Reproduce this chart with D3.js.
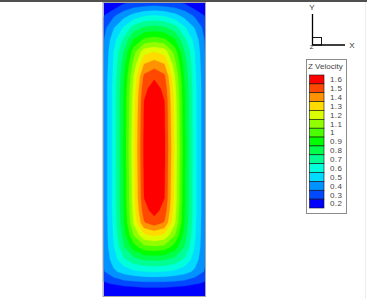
<!DOCTYPE html>
<html>
<head>
<meta charset="utf-8">
<script src="https://cdn.jsdelivr.net/npm/d3@7"></script>
<style>
  body { margin: 0; background: #fff; }
  svg { display: block; font-family: 'Liberation Sans', Arial, sans-serif; }
</style>
</head>
<body>
<div class="chart"></div>
<script>
'use strict';

const FULL_WIDTH = 367;
const FULL_HEIGHT = 299;

const plot = {
  left: 103.5,
  right: 205,
  top: 3,
  bottom: 296
};

// contour levels, top of the legend first
const levels = [1.6, 1.5, 1.4, 1.3, 1.2, 1.1, 1.0, 0.9, 0.8, 0.7, 0.6, 0.5, 0.4, 0.3, 0.2];
const levelLabels = ['1.6', '1.5', '1.4', '1.3', '1.2', '1.1', '1', '0.9', '0.8', '0.7', '0.6', '0.5', '0.4', '0.3', '0.2'];

// Z velocity: 11 columns (left wall -> right wall), 25 rows (top -> bottom)
const zVelocity = [
  [0.11, 0.21, 0.29, 0.32, 0.33, 0.34, 0.33, 0.32, 0.29, 0.21, 0.11],
  [0.29, 0.38, 0.46, 0.53, 0.58, 0.60, 0.58, 0.53, 0.46, 0.38, 0.29],
  [0.36, 0.49, 0.61, 0.74, 0.81, 0.83, 0.81, 0.74, 0.61, 0.49, 0.36],
  [0.39, 0.56, 0.72, 0.91, 1.02, 1.05, 1.02, 0.91, 0.72, 0.56, 0.39],
  [0.40, 0.60, 0.80, 1.06, 1.26, 1.30, 1.26, 1.06, 0.80, 0.60, 0.40],
  [0.41, 0.61, 0.85, 1.14, 1.40, 1.45, 1.40, 1.14, 0.85, 0.61, 0.41],
  [0.42, 0.62, 0.88, 1.21, 1.52, 1.58, 1.52, 1.21, 0.88, 0.62, 0.42],
  [0.42, 0.63, 0.90, 1.24, 1.57, 1.65, 1.57, 1.24, 0.90, 0.63, 0.42],
  [0.42, 0.63, 0.91, 1.26, 1.60, 1.68, 1.60, 1.26, 0.91, 0.63, 0.42],
  [0.42, 0.63, 0.91, 1.27, 1.61, 1.69, 1.61, 1.27, 0.91, 0.63, 0.42],
  [0.42, 0.63, 0.91, 1.28, 1.61, 1.69, 1.61, 1.28, 0.91, 0.63, 0.42],
  [0.42, 0.63, 0.92, 1.28, 1.62, 1.70, 1.62, 1.28, 0.92, 0.63, 0.42],
  [0.42, 0.63, 0.92, 1.29, 1.62, 1.70, 1.62, 1.29, 0.92, 0.63, 0.42],
  [0.42, 0.63, 0.92, 1.28, 1.62, 1.70, 1.62, 1.28, 0.92, 0.63, 0.42],
  [0.42, 0.63, 0.91, 1.28, 1.61, 1.69, 1.61, 1.28, 0.91, 0.63, 0.42],
  [0.42, 0.63, 0.91, 1.27, 1.61, 1.69, 1.61, 1.27, 0.91, 0.63, 0.42],
  [0.42, 0.63, 0.91, 1.27, 1.60, 1.68, 1.60, 1.27, 0.91, 0.63, 0.42],
  [0.42, 0.63, 0.90, 1.25, 1.56, 1.64, 1.56, 1.25, 0.90, 0.63, 0.42],
  [0.42, 0.62, 0.89, 1.22, 1.49, 1.55, 1.49, 1.22, 0.89, 0.62, 0.42],
  [0.42, 0.61, 0.85, 1.11, 1.28, 1.32, 1.28, 1.11, 0.85, 0.61, 0.42],
  [0.42, 0.59, 0.79, 0.95, 1.06, 1.08, 1.06, 0.95, 0.79, 0.59, 0.42],
  [0.41, 0.55, 0.68, 0.77, 0.81, 0.82, 0.81, 0.77, 0.68, 0.55, 0.41],
  [0.39, 0.48, 0.54, 0.58, 0.60, 0.61, 0.60, 0.58, 0.54, 0.48, 0.39],
  [0.28, 0.31, 0.34, 0.35, 0.36, 0.36, 0.36, 0.35, 0.34, 0.31, 0.28],
  [0.05, 0.10, 0.13, 0.15, 0.16, 0.16, 0.16, 0.15, 0.13, 0.10, 0.05]
];

// tecplot style rainbow, blue -> cyan -> green -> yellow -> red
const color = d3.scaleLinear()
  .domain([0.2, 0.55, 0.9, 1.25, 1.6])
  .range(['#0000ff', '#00ffff', '#00ff00', '#ffff00', '#ff0000'])
  .clamp(true);

const svg = d3.select('.chart')
  .append('svg')
    .attr('width', FULL_WIDTH)
    .attr('height', FULL_HEIGHT);

svg.append('rect')
  .attr('width', FULL_WIDTH)
  .attr('height', 2)
  .attr('fill', '#505050');

svg.append('line')
  .attr('x1', FULL_WIDTH - 1.5)
  .attr('x2', FULL_WIDTH - 1.5)
  .attr('y1', 2)
  .attr('y2', FULL_HEIGHT)
  .attr('stroke', '#ececec');

// ---- contour flood ----
const nx = zVelocity[0].length;
const ny = zVelocity.length;

const x = d3.scaleLinear()
  .domain([0.5, nx - 0.5])
  .range([plot.left, plot.right]);

const y = d3.scaleLinear()
  .domain([0.5, ny - 0.5])
  .range([plot.top, plot.bottom]);

const path = d3.geoPath(d3.geoTransform({
  point: function (px, py) {
    this.stream.point(x(px), y(py));
  }
}));

const thresholds = levels.slice(0, -1).reverse();
const contours = d3.contours()
  .size([nx, ny])
  .thresholds(thresholds)(zVelocity.flat());

svg.append('clipPath')
    .attr('id', 'plot-clip')
  .append('rect')
    .attr('x', plot.left)
    .attr('y', plot.top)
    .attr('width', plot.right - plot.left)
    .attr('height', plot.bottom - plot.top);

const flood = svg.append('g')
  .attr('clip-path', 'url(#plot-clip)');

flood.append('rect')
  .attr('x', plot.left)
  .attr('y', plot.top)
  .attr('width', plot.right - plot.left)
  .attr('height', plot.bottom - plot.top)
  .attr('fill', color(levels[levels.length - 1]));

flood.selectAll('.band')
  .data(contours)
  .enter()
  .append('path')
  .attr('class', 'band')
  .attr('d', path)
  .attr('fill', (d) => color(d.value))
  .attr('stroke', (d) => color(d.value))
  .attr('stroke-width', 0.3);

svg.append('rect')
  .attr('x', plot.left - 0.5)
  .attr('y', plot.top - 0.5)
  .attr('width', plot.right - plot.left + 1)
  .attr('height', plot.bottom - plot.top + 1)
  .attr('fill', 'none')
  .attr('stroke', '#a8a8a8');

// ---- axis triad ----
const triad = svg.append('g')
  .attr('stroke', '#000')
  .attr('stroke-width', 1.3);

triad.append('line')
  .attr('x1', 312.5).attr('y1', 14)
  .attr('x2', 312.5).attr('y2', 45);
triad.append('line')
  .attr('x1', 312.5).attr('y1', 45)
  .attr('x2', 345).attr('y2', 45);
triad.append('rect')
  .attr('x', 312.5).attr('y', 37.5)
  .attr('width', 9).attr('height', 7.5)
  .attr('fill', 'none')
  .attr('stroke-width', 0.9);

const triadText = [
  { t: 'Y', x: 312, y: 10 },
  { t: 'X', x: 352, y: 48 },
  { t: 'Z', x: 311.5, y: 48.5 }
];
svg.selectAll('.triad-label')
  .data(triadText)
  .enter()
  .append('text')
  .attr('class', 'triad-label')
  .attr('x', (d) => d.x)
  .attr('y', (d) => d.y)
  .attr('text-anchor', 'middle')
  .attr('font-size', (d) => d.t === 'Z' ? '6px' : '8px')
  .attr('fill', '#333')
  .text((d) => d.t);

// ---- legend ----
const legend = svg.append('g');

legend.append('rect')
  .attr('x', 306.5)
  .attr('y', 59.5)
  .attr('width', 40)
  .attr('height', 154)
  .attr('fill', '#fff')
  .attr('stroke', '#8c8c8c');

legend.append('text')
  .attr('x', 308)
  .attr('y', 69)
  .attr('font-size', '8px')
  .attr('fill', '#444')
  .text('Z Velocity');

const band = d3.scaleBand()
  .domain(levelLabels)
  .range([75, 208]);

legend.selectAll('.swatch')
  .data(levels)
  .enter()
  .append('rect')
  .attr('class', 'swatch')
  .attr('x', 309.5)
  .attr('y', (d, i) => band(levelLabels[i]))
  .attr('width', 14.5)
  .attr('height', band.bandwidth())
  .attr('fill', (d) => color(d))
  .attr('stroke', '#111')
  .attr('stroke-width', 0.6);

legend.selectAll('.level-label')
  .data(levelLabels)
  .enter()
  .append('text')
  .attr('class', 'level-label')
  .attr('x', 330)
  .attr('y', (d) => band(d) + band.bandwidth() / 2)
  .attr('dy', '0.35em')
  .attr('font-size', '8px')
  .attr('letter-spacing', '0.4px')
  .attr('fill', '#444')
  .text((d) => d);
</script>
</body>
</html>
